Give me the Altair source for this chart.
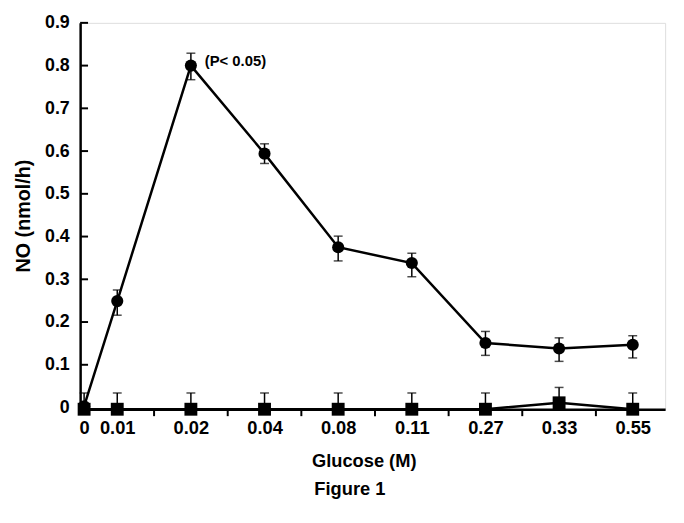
import altair as alt
import pandas as pd

# Category labels and their horizontal slot positions
glucose_labels = ["0", "0.01", "0.02", "0.04", "0.08", "0.11", "0.27", "0.33", "0.55"]
slot_pos = [0, 0.45, 1.45, 2.45, 3.45, 4.45, 5.45, 6.45, 7.45]

# Circle series (NO, nmol/h)
no_mean = [0.003, 0.249, 0.800, 0.594, 0.375, 0.338, 0.151, 0.138, 0.147]
no_low = [0.003, 0.216, 0.767, 0.571, 0.343, 0.306, 0.122, 0.108, 0.116]
no_high = [0.003, 0.275, 0.829, 0.617, 0.401, 0.361, 0.178, 0.163, 0.168]

# Square series
sq_mean = [-0.004, -0.004, -0.004, -0.004, -0.004, -0.004, -0.004, 0.011, -0.004]
sq_high = [0.034, 0.034, 0.034, 0.034, 0.034, 0.034, 0.034, 0.047, 0.034]

# Tick marks between categories on the x axis, y ticks
x_tick_marks = [0.95, 1.95, 2.95, 3.95, 4.95, 5.95, 6.95]
y_ticks = [0, 0.1, 0.2, 0.3, 0.4, 0.5, 0.6, 0.7, 0.8, 0.9]

W, H = 592, 391
FONT = "Liberation Sans"

df = pd.DataFrame({
    "pos": slot_pos, "label": glucose_labels,
    "no": no_mean, "lo": no_low, "hi": no_high,
    "sq": sq_mean, "sqhi": sq_high,
})

xscale = alt.Scale(domain=[-0.054, 7.89], nice=False, zero=False)
yscale = alt.Scale(domain=[-0.004, 0.9], nice=False, zero=False)

label_expr = "{" + ",".join(f"'{p}':'{l}'" for p, l in zip(slot_pos, glucose_labels)) + "}[datum.value]"

x_axis = alt.Axis(
    values=slot_pos, labelExpr=label_expr, ticks=False, grid=False,
    domainColor="black", domainWidth=2.5, labelFont=FONT, labelFontSize=18.5,
    labelFontWeight="bold", labelColor="black", labelPadding=10,
    title="Glucose (M)", titleFont=FONT, titleFontSize=18.5, titleFontWeight="bold",
    titleColor="black", titleX=287, titleY=52, titleBaseline="middle", titleAlign="center",
)
y_axis = alt.Axis(
    values=y_ticks, format="~g", ticks=False, grid=False,
    domainColor="black", domainWidth=2.5, labelFont=FONT, labelFontSize=18,
    labelFontWeight="bold", labelColor="black", labelPadding=11,
    title="NO (nmol/h)", titleFont=FONT, titleFontSize=20, titleFontWeight="bold",
    titleColor="black", titleX=-57, titleY=195, titleBaseline="middle", titleAlign="center",
)

base = alt.Chart(df)
x_enc = alt.X("pos:Q", scale=xscale, axis=x_axis)

sq_line = base.mark_line(color="black", strokeWidth=2.5).encode(
    x=x_enc, y=alt.Y("sq:Q", scale=yscale, axis=y_axis))
sq_err = base.mark_rule(color="black", strokeWidth=1.5).encode(
    x=alt.X("pos:Q", scale=xscale), y=alt.Y("sq:Q", scale=yscale), y2="sqhi:Q")
sq_cap = base.mark_tick(color="black", orient="horizontal", size=9, thickness=1.5).encode(
    x=alt.X("pos:Q", scale=xscale), y=alt.Y("sqhi:Q", scale=yscale))
sq_pts = base.mark_point(shape="square", filled=True, color="black", opacity=1, size=170).encode(
    x=alt.X("pos:Q", scale=xscale), y=alt.Y("sq:Q", scale=yscale))

no_line = base.mark_line(color="black", strokeWidth=2.5).encode(
    x=alt.X("pos:Q", scale=xscale), y=alt.Y("no:Q", scale=yscale))
no_err = base.mark_rule(color="black", strokeWidth=1.5).encode(
    x=alt.X("pos:Q", scale=xscale), y=alt.Y("lo:Q", scale=yscale), y2="hi:Q")
no_cap_hi = base.mark_tick(color="black", orient="horizontal", size=9, thickness=1.5).encode(
    x=alt.X("pos:Q", scale=xscale), y=alt.Y("hi:Q", scale=yscale))
no_cap_lo = base.mark_tick(color="black", orient="horizontal", size=9, thickness=1.5).encode(
    x=alt.X("pos:Q", scale=xscale), y=alt.Y("lo:Q", scale=yscale))
no_pts = base.mark_circle(color="black", opacity=1, size=150).encode(
    x=alt.X("pos:Q", scale=xscale), y=alt.Y("no:Q", scale=yscale))

# inward y ticks
ytick_df = pd.DataFrame({"v": y_ticks})
ytick_marks = alt.Chart(ytick_df).mark_rule(color="black", strokeWidth=2).encode(
    x=alt.value(0), x2=alt.value(8), y=alt.Y("v:Q", scale=yscale))

# outward x ticks between categories
xtick_df = pd.DataFrame({"t": x_tick_marks})
xtick_marks = alt.Chart(xtick_df).mark_rule(color="black", strokeWidth=2).encode(
    x=alt.X("t:Q", scale=xscale), y=alt.value(H), y2=alt.value(H + 7))

# annotation
ann_df = pd.DataFrame({"pos": [slot_pos[2]], "v": [no_mean[2]], "txt": ["(P< 0.05)"]})
ann = alt.Chart(ann_df).mark_text(
    align="left", baseline="middle", dx=14, dy=-5, font=FONT, fontSize=15,
    fontWeight="bold", color="black").encode(
    x=alt.X("pos:Q", scale=xscale), y=alt.Y("v:Q", scale=yscale), text="txt:N")

fig_df = pd.DataFrame({"txt": ["Figure 1"]})
fig = alt.Chart(fig_df).mark_text(
    align="center", baseline="middle", font=FONT, fontSize=18.5, fontWeight="bold",
    color="black").encode(x=alt.value(273), y=alt.value(472), text="txt:N")

chart = alt.layer(
    sq_line, sq_err, sq_cap, sq_pts,
    no_line, no_err, no_cap_hi, no_cap_lo, no_pts,
    ytick_marks, xtick_marks, ann, fig,
).properties(
    width=W, height=H,
    autosize=alt.AutoSizeParams(type="none"),
    padding={"left": 73, "top": 12, "right": 11, "bottom": 104},
).configure_view(stroke=None).configure(background="white")

chart.save("out.html", embed_options={"renderer": "svg", "actions": False})
